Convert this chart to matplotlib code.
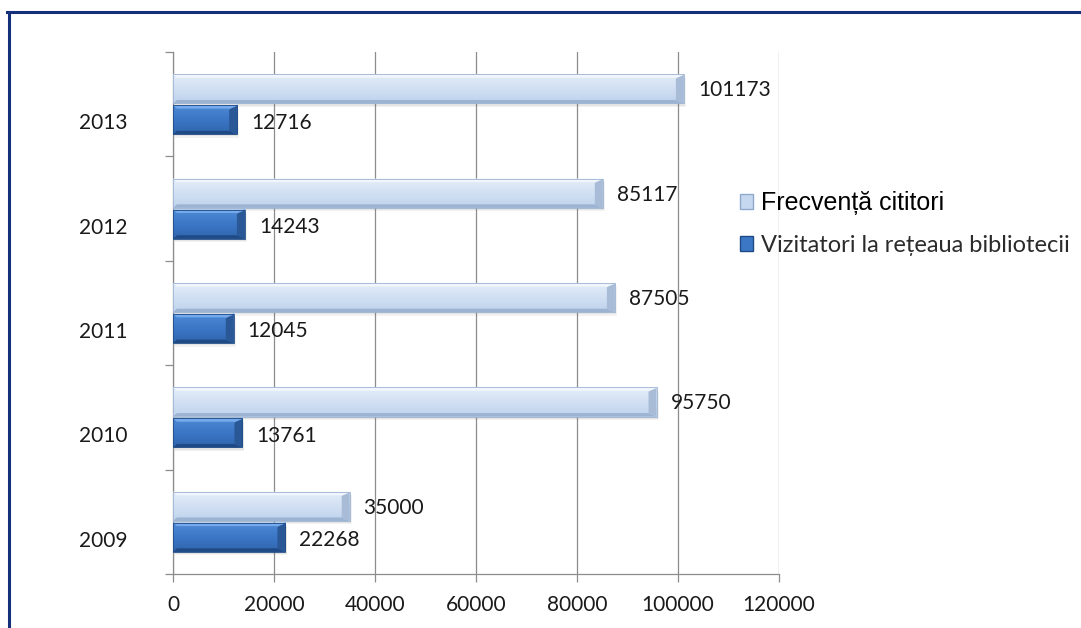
import numpy as np
import matplotlib
matplotlib.use("Agg")
import matplotlib.pyplot as plt
from matplotlib.colors import LinearSegmentedColormap
from matplotlib.patches import Rectangle
from matplotlib.lines import Line2D
from matplotlib.transforms import ScaledTranslation

# data
years = ["2009", "2010", "2011", "2012", "2013"]
frecventa = [35000, 95750, 87505, 85117, 101173]
vizitatori = [22268, 13761, 12045, 14243, 12716]
series_names = ["Frecvență cititori", "Vizitatori la rețeaua bibliotecii"]
x_ticks = [0, 20000, 40000, 60000, 80000, 100000, 120000]

# (face gradient top->bottom, top bevel, bottom bevel, right facet)
light_style = (["#e6eefa", "#d2e0f3", "#bfd3ed"], "#f1f6fd", "#9cb3d2", "#a8bcd8")
dark_style = (["#4f8ad6", "#3c77c6", "#3065ad"], "#74aaeb", "#1f4a85", "#2a5896")

plt.rcParams["font.family"] = ["Lato", "DejaVu Sans"]

fig = plt.figure(figsize=(10.81, 6.28), dpi=100)
ax = fig.add_axes([0.160, 0.086, 0.5606, 0.831])

y = np.arange(len(years))
bh = 0.28
off = 0.148

bars_l = ax.barh(y + off, frecventa, height=bh, color=light_style[0][1],
                 edgecolor="none", zorder=3)
bars_d = ax.barh(y - off, vizitatori, height=bh, color=dark_style[0][1],
                 edgecolor="none", zorder=3)

ax.set_xlim(0, 120000)
ax.set_ylim(-0.5, len(years) - 0.5)

px = 120000 / (0.5606 * 1081)
py = len(years) / (0.831 * 628)


def shade(patch, style):
    face, top_c, bot_c, end_c = style
    x0, y0 = patch.get_x(), patch.get_y()
    w, h = patch.get_width(), patch.get_height()
    x1, y1 = x0 + w, y0 + h
    # soft shadow
    for k, a in [(1.0, 0.10), (0.6, 0.12)]:
        sh = ScaledTranslation(0.02 * k, -0.035 * k, fig.dpi_scale_trans)
        ax.add_patch(Rectangle((x0, y0), w, h, transform=ax.transData + sh,
                               facecolor="#808080", alpha=a, edgecolor="none", zorder=2))
    cmap = LinearSegmentedColormap.from_list("g", face)
    grad = np.linspace(0, 1, 64).reshape(-1, 1)
    im = ax.imshow(grad, cmap=cmap, extent=(x0, x1, y0, y1),
                   origin="upper", aspect="auto", zorder=3.5, interpolation="bilinear")
    im.set_clip_path(patch)
    b = 3.5 * py
    d = 8 * px
    # top and bottom bevel strips
    ax.fill([x0, x1, x1 - d, x0 + d * 0.5], [y1, y1, y1 - b, y1 - b],
            color=top_c, lw=0, zorder=3.6)
    ax.fill([x0, x1, x1 - d, x0 + d * 0.5], [y0, y0, y0 + b, y0 + b],
            color=bot_c, lw=0, zorder=3.6)
    # right end facet
    ax.fill([x1 - d, x1, x1, x1 - d], [y1 - b, y1, y0, y0 + b],
            color=end_c, lw=0, zorder=3.7)
    ax.plot([x1 - d, x1], [y1 - b, y1], color=top_c, lw=0.8, zorder=3.8)
    ax.add_patch(Rectangle((x0, y0), w, h, facecolor="none",
                           edgecolor=bot_c, lw=0.6, zorder=3.9))


for p in bars_l:
    shade(p, light_style)
for p in bars_d:
    shade(p, dark_style)

ax.set_xlim(0, 120000)
ax.set_ylim(-0.5, len(years) - 0.5)

# value labels
txt_c = "#1a1a1a"
for yy, v in zip(y, frecventa):
    ax.annotate(str(v), (v, yy + off), xytext=(10, -1), textcoords="offset points",
                va="center", ha="left", fontsize=15, color=txt_c)
for yy, v in zip(y, vizitatori):
    ax.annotate(str(v), (v, yy - off), xytext=(10, -2), textcoords="offset points",
                va="center", ha="left", fontsize=15, color=txt_c)

# axes styling
grid_c = "#8c8c8c"
ax.set_xticks(x_ticks)
ax.set_xticklabels([str(t) for t in x_ticks])
ax.xaxis.grid(True, color=grid_c, linewidth=0.9, zorder=0)
ax.set_axisbelow(True)
ax.tick_params(axis="x", length=6, width=0.9, color=grid_c, pad=9,
               labelsize=15, labelcolor=txt_c)

ax.set_yticks(y)
ax.set_yticklabels(years)
ax.set_yticks(np.arange(-0.5, len(years)), minor=True)
ax.tick_params(axis="y", which="major", length=0, pad=33, labelsize=15,
               labelcolor=txt_c)
ax.tick_params(axis="y", which="minor", length=6, width=0.9, color=grid_c)
for lab in ax.get_yticklabels():
    lab.set_transform(lab.get_transform() + ScaledTranslation(0, -0.17, fig.dpi_scale_trans))

for s in ["top", "right"]:
    ax.spines[s].set_visible(False)
for s in ["left", "bottom"]:
    ax.spines[s].set_color(grid_c)
    ax.spines[s].set_linewidth(0.9)

# legend
handles = [Rectangle((0, 0), 1, 1, facecolor="#c6d8ef", edgecolor="#8ea9cc"),
           Rectangle((0, 0), 1, 1, facecolor="#3c77c6", edgecolor="#1f4a85")]
leg = fig.legend(handles, series_names, loc="upper left",
                 bbox_to_anchor=(0.665, 0.73), frameon=False, fontsize=17,
                 handlelength=0.55, handleheight=0.55, handletextpad=0.35,
                 labelspacing=0.85)
leg.get_texts()[0].set_fontfamily(["Liberation Sans", "DejaVu Sans"])
leg.get_texts()[0].set_color("black")
leg.get_texts()[0].set_fontsize(18)
leg.get_texts()[1].set_color("#2b2b2b")

# outer frame (left and top edges visible)
navy = "#15307a"
fig.add_artist(Line2D([8.5 / 1081, 8.5 / 1081], [0, 1 - 11.5 / 628],
                      transform=fig.transFigure, color=navy, linewidth=2.2))
fig.add_artist(Line2D([7.5 / 1081, 1], [1 - 11.5 / 628, 1 - 11.5 / 628],
                      transform=fig.transFigure, color=navy, linewidth=2.2))

fig.savefig("out.png", dpi=100)
